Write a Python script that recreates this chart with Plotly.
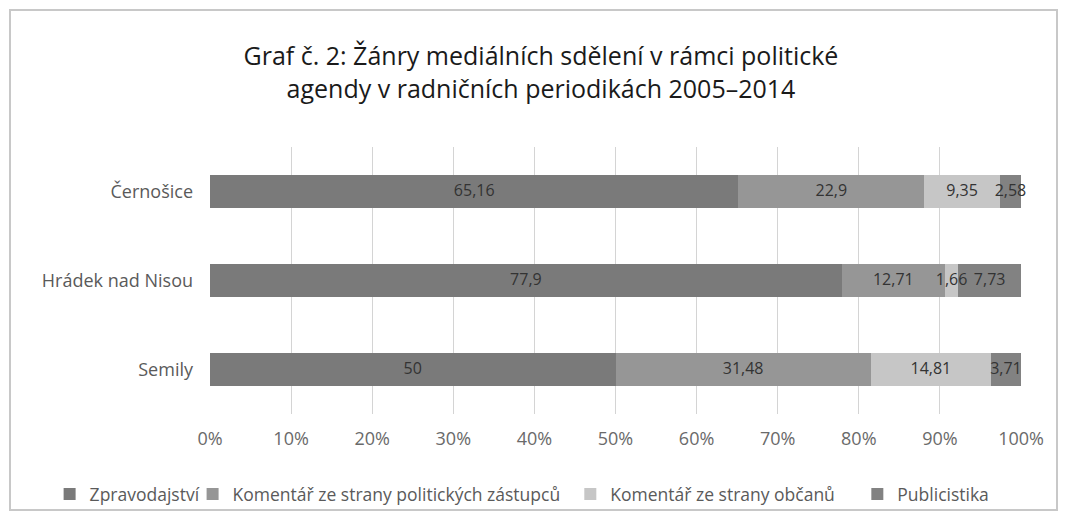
import plotly.graph_objects as go

# Data (percent shares)
towns = ["Černošice", "Hrádek nad Nisou", "Semily"]
zpravodajstvi = [65.16, 77.9, 50]
komentar_politici = [22.9, 12.71, 31.48]
komentar_obcane = [9.35, 1.66, 14.81]
publicistika = [2.58, 7.73, 3.71]

series = [
    ("Zpravodajství", zpravodajstvi, "#7a7a7a"),
    ("Komentář ze strany politických zástupců", komentar_politici, "#969696"),
    ("Komentář ze strany občanů", komentar_obcane, "#c6c6c6"),
    ("Publicistika", publicistika, "#828282"),
]

font_main = "Open Sans, Noto Sans, sans-serif"
legend_ids = ["legend", "legend2", "legend3", "legend4"]
legend_x = [0.039, 0.173, 0.527, 0.796]

fig = go.Figure()
for (name, vals, color), lid in zip(series, legend_ids):
    fig.add_trace(go.Bar(
        y=towns,
        x=vals,
        name=name,
        orientation="h",
        marker=dict(color=color, line=dict(width=0)),
        hoverinfo="x+name",
        legend=lid,
    ))

# value labels on top of all bars, centred in each segment
lab_x, lab_y, lab_t = [], [], []
start = [0.0] * len(towns)
for name, vals, color in series:
    for i, v in enumerate(vals):
        lab_x.append(start[i] + v / 2)
        lab_y.append(towns[i])
        lab_t.append(f"{v:g}".replace(".", ","))
        start[i] += v

fig.add_trace(go.Scatter(
    x=lab_x,
    y=lab_y,
    text=lab_t,
    mode="text",
    textposition="middle center",
    textfont=dict(size=16, color="#333333", family=font_main),
    showlegend=False,
    hoverinfo="skip",
    cliponaxis=False,
))

# one single-item legend per series so the row never wraps
legends = {}
for lid, lx in zip(legend_ids, legend_x):
    legends[lid] = dict(
        orientation="h",
        xref="container",
        yref="container",
        x=lx,
        xanchor="left",
        y=0.0725,
        yanchor="middle",
        font=dict(size=17.5, color="#5a5a5a", family=font_main),
        itemwidth=30,
        bgcolor="rgba(0,0,0,0)",
    )

fig.update_layout(
    barmode="stack",
    bargap=0.62,
    width=1067,
    height=524,
    paper_bgcolor="white",
    plot_bgcolor="white",
    margin=dict(l=202, r=54, t=139, b=118),
    title=dict(
        text="Graf č. 2: Žánry mediálních sdělení v rámci politické<br>agendy v radničních periodikách 2005–2014",
        x=0.4995,
        xanchor="center",
        y=0.891,
        yanchor="middle",
        font=dict(size=25, color="#1a1a1a", family=font_main),
    ),
    xaxis=dict(
        range=[0, 100],
        tickvals=list(range(0, 101, 10)),
        ticktext=[f"{v}%" for v in range(0, 101, 10)],
        showgrid=True,
        gridcolor="#d4d4d4",
        gridwidth=1,
        zeroline=False,
        showline=False,
        ticks="",
        ticklabelstandoff=12,
        tickfont=dict(size=18, color="#6a6a6a", family=font_main),
    ),
    yaxis=dict(
        categoryorder="array",
        categoryarray=towns[::-1],
        showgrid=False,
        zeroline=False,
        showline=False,
        ticks="",
        ticklabelstandoff=16,
        tickfont=dict(size=18, color="#5a5a5a", family=font_main),
    ),
    showlegend=True,
    shapes=[
        dict(
            type="rect",
            xref="paper",
            yref="paper",
            x0=-0.2466,
            x1=1.0444,
            y0=-0.3596,
            y1=1.513,
            line=dict(color="#c8c8c8", width=2),
            layer="below",
        )
    ],
    **legends,
)

fig.write_html("out.html")
